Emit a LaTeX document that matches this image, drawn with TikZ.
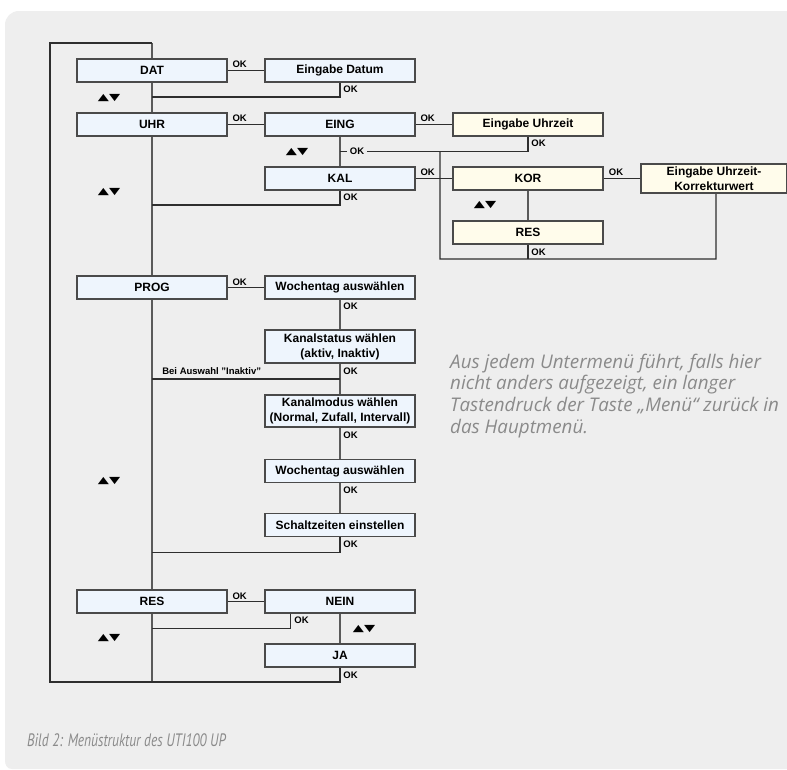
\documentclass[tikz,border=0pt]{standalone}
\usepackage{fontspec}
\setmainfont{Liberation Sans}
\newfontfamily\notefont{Open Sans}
\newfontfamily\ptsans{PT Sans}
\newfontfamily\dejavu{DejaVu Sans}
\usetikzlibrary{calc}
\definecolor{panelc}{HTML}{EEEEEE}
\definecolor{bluef}{HTML}{EEF5FD}
\definecolor{yellowf}{HTML}{FFFCEB}
\definecolor{boxline}{HTML}{4A4A4A}
\definecolor{linec}{HTML}{2E2E2E}
\definecolor{trunkc}{HTML}{5A5A5A}
\definecolor{txtgray}{HTML}{8A8A8A}
\pgfdeclarelayer{panel}
\pgfdeclarelayer{lines}
\pgfsetlayers{panel,lines,main}
\tikzset{
  menubox/.style={draw=boxline, line width=1.7pt, fill=bluef, minimum width=150pt,
    minimum height=23pt, inner sep=0pt, font=\fontsize{12}{14.8}\selectfont\bfseries, align=center},
  subbox/.style={menubox, fill=yellowf},
  conn/.style={draw=linec, line width=1.2pt},
  trunk/.style={draw=trunkc, line width=1.6pt},
  oklab/.style={font=\fontsize{9.5}{11}\selectfont\bfseries, inner sep=0pt},
  updown/.style={font=\dejavu\fontsize{10}{12}\selectfont, inner sep=0pt},
  notetext/.style={font=\notefont\itshape\fontsize{18.8}{21.7}\selectfont, text=txtgray, inner sep=0pt}
}
\newcommand{\updn}{\scalebox{1.45}[0.95]{▲▼}}
\begin{document}
\begin{tikzpicture}[x=1pt,y=-1pt]
\useasboundingbox (0,0) rectangle (787,769);
\begin{pgfonlayer}{panel}
\fill[white] (0,0) rectangle (787,769);
\fill[panelc] (787,11) -- (19,11) .. controls (11,11) and (5,17) .. (5,25) -- (5,760)
   .. controls (5,765) and (7,769) .. (12,769) -- (787,769) -- cycle;
\end{pgfonlayer}

% main menu boxes
\node[menubox] (dat) at (152,70.5) {DAT};
\node[menubox] (uhr) at (152,124.5) {UHR};
\node[menubox] (prog) at (152,287.5) {PROG};
\node[menubox] (res) at (152,601.5) {RES};
% sub boxes
\node[menubox] (eingdat) at (340,70.5) {Eingabe Datum};
\node[menubox] (eing) at (340,124.5) {EING};
\node[menubox] (kal) at (340,178.5) {KAL};
\node[subbox] (einguhr) at (528,124.5) {Eingabe Uhrzeit};
\node[subbox] (kor) at (528,178.5) {KOR};
\node[subbox] (kres) at (528,232.5) {RES};
\node[subbox, minimum width=146pt, minimum height=29pt] (korr) at (714,178.5) {Eingabe Uhrzeit-\\Korrekturwert};
\node[menubox] (woch1) at (340,287.5) {Wochentag auswählen};
\node[menubox, minimum height=33pt] (kstat) at (340,346.5) {Kanalstatus wählen\\(aktiv, Inaktiv)};
\node[menubox, minimum height=32pt] (kmod) at (340,411) {Kanalmodus wählen\\(Normal, Zufall, Intervall)};
\node[menubox] (woch2) at (340,471) {Wochentag auswählen};
\node[menubox] (schalt) at (340,525) {Schaltzeiten einstellen};
\node[menubox] (nein) at (340,601.5) {NEIN};
\node[menubox] (ja) at (340,655.5) {JA};

% coordinates
\coordinate (tt) at (152,43);
\coordinate (tl) at (50,43);
\coordinate (bl) at (50,682);
\coordinate (bt) at (152,682);
\coordinate (bj) at (340,682);
\coordinate (d1) at (340,97);
\coordinate (d1t) at (152,97);
\coordinate (u1) at (528,151.5);
\coordinate (u1l) at (340,151.5);
\coordinate (u1m) at (440,151.5);
\coordinate (u2m) at (440,259);
\coordinate (u2r) at (716,259);
\coordinate (u2c) at (528,259);
\coordinate (k1) at (340,205);
\coordinate (k1t) at (152,205);
\coordinate (p1) at (340,379);
\coordinate (p1t) at (152,379);
\coordinate (s1) at (340,552.3);
\coordinate (s1t) at (152,552.3);
\coordinate (n1) at (290.7,613);
\coordinate (n2) at (290.7,628.3);
\coordinate (n2t) at (152,628.3);

\begin{pgfonlayer}{lines}
\draw[trunk] (tt) -- (bt);
\draw[conn] (tt) -- (tl) -- (bl) -- (bj) -- (ja.south);
\draw[conn] (dat.east) -- (eingdat.west);
\draw[conn] (eingdat.south) -- (d1) -- (d1t);
\draw[conn] (uhr.east) -- (eing.west);
\draw[conn] (eing.east) -- (einguhr.west);
\draw[trunk] (eing.south) -- (kal.north);
\draw[conn] (einguhr.south) -- (u1) -- (u1l);
\draw[conn] (u1m) -- (u2m) -- (u2r) -- ($(korr.south west)!0.514!(korr.south east)$);
\draw[conn] (kres.south) -- (u2c);
\draw[conn] (kal.east) -- (kor.west);
\draw[conn] (kor.east) -- (korr.west);
\draw[trunk] (kor.south) -- (kres.north);
\draw[conn] (kal.south) -- (k1) -- (k1t);
\draw[conn] (prog.east) -- (woch1.west);
\draw[trunk] (woch1.south) -- (kstat.north);
\draw[trunk] (kstat.south) -- (kmod.north);
\draw[conn] (p1) -- (p1t);
\draw[trunk] (kmod.south) -- (woch2.north);
\draw[trunk] (woch2.south) -- (schalt.north);
\draw[conn] (schalt.south) -- (s1) -- (s1t);
\draw[conn] (res.east) -- (nein.west);
\draw[conn] (n1) -- (n2) -- (n2t);
\draw[trunk] (nein.south) -- (ja.north);
\end{pgfonlayer}

% OK labels
\node[oklab] (ok1) at (239.7,64.3) {OK};
\node[oklab] (ok2) at (350.5,89.7) {OK};
\node[oklab] (ok3) at (239.7,118.3) {OK};
\node[oklab] (ok4) at (427.7,118.3) {OK};
\node[oklab] (ok5) at (538.5,143.5) {OK};
\node[oklab, fill=panelc, inner xsep=3pt] (ok6) at (357,151.5) {OK};
\node[oklab] (ok7) at (427.7,172.3) {OK};
\node[oklab] (ok8) at (616,172.3) {OK};
\node[oklab] (ok9) at (350.5,197.5) {OK};
\node[oklab] (ok10) at (538.5,251.8) {OK};
\node[oklab] (ok11) at (239.7,282) {OK};
\node[oklab] (ok12) at (350.5,306.7) {OK};
\node[oklab] (ok13) at (350.5,371) {OK};
\node[oklab] (inakt) at (211.7,371) {Bei Auswahl "Inaktiv"};
\node[oklab] (ok14) at (350.5,435.7) {OK};
\node[oklab] (ok15) at (350.5,490) {OK};
\node[oklab] (ok16) at (350.5,544.3) {OK};
\node[oklab] (ok17) at (239.7,596) {OK};
\node[oklab] (ok18) at (301.5,620.3) {OK};
\node[oklab] (ok19) at (350.5,675) {OK};

% up/down symbols
\node[updown] (ud1) at (109,97.7) {\updn};
\node[updown] (ud2) at (297,151.7) {\updn};
\node[updown] (ud3) at (109,191.7) {\updn};
\node[updown] (ud4) at (485,205) {\updn};
\node[updown] (ud5) at (109,481) {\updn};
\node[updown] (ud6) at (109,637.7) {\updn};
\node[updown] (ud7) at (364,629) {\updn};

% note
\node[notetext, anchor=west, align=left] (note) at (450,395.8)
 {Aus jedem Untermenü führt, falls hier\\nicht anders aufgezeigt, ein langer\\Tastendruck der Taste „Menü“ zurück in\\das Hauptmenü.};
\node[notetext, anchor=west, font=\ptsans\itshape\fontsize{18}{21}\selectfont] (cap) at (27,740)
 {\scalebox{0.75}[1]{Bild 2: Menüstruktur des UTI100 UP}};
\end{tikzpicture}
\end{document}
